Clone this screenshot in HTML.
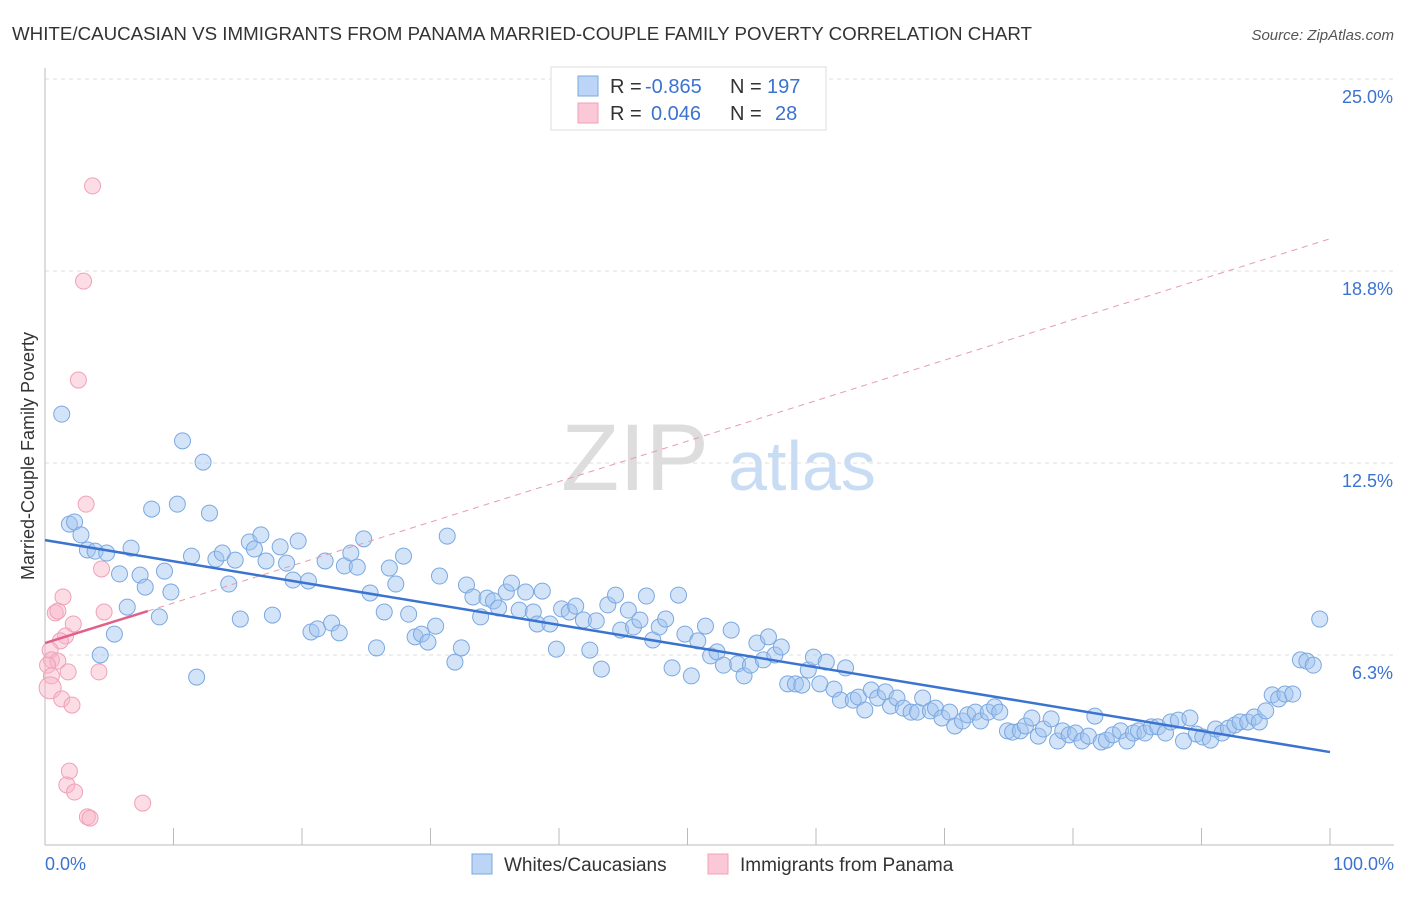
<!DOCTYPE html>
<html><head><meta charset="utf-8"><style>
body{margin:0;background:#fff;font-family:"Liberation Sans",sans-serif;}
svg text{font-family:"Liberation Sans",sans-serif;}
</style></head><body>
<svg id="chart" width="1406" height="892" xmlns="http://www.w3.org/2000/svg">
<text x="12" y="40" font-size="18" fill="#333" textLength="1020" lengthAdjust="spacingAndGlyphs">WHITE/CAUCASIAN VS IMMIGRANTS FROM PANAMA MARRIED-COUPLE FAMILY POVERTY CORRELATION CHART</text>
<text x="1394" y="40" font-size="15" fill="#555" font-style="italic" text-anchor="end">Source: ZipAtlas.com</text>
<text x="0" y="0" transform="translate(34,456) rotate(-90)" font-size="18" fill="#333" text-anchor="middle">Married-Couple Family Poverty</text>
<g>
<text x="635" y="490" font-size="95" fill="#ddd" font-family="Liberation Serif" text-anchor="middle">ZIP</text>
<text x="802" y="490" font-size="70" fill="#c8dcf4" text-anchor="middle">atlas</text>
</g>
<g id="grid"></g><g id="axes"></g><g id="pts"></g><g id="lines"></g>
<g>
<rect x="551" y="67" width="275" height="63" fill="#fff" stroke="#ddd"/>
<rect x="578" y="76" width="20" height="20" fill="#bcd4f5" stroke="#7aa8e0"/>
<rect x="578" y="103" width="20" height="20" fill="#fac8d6" stroke="#f0a0b8"/>
<text y="93" font-size="20" fill="#333"><tspan x="610">R = </tspan><tspan x="645" fill="#3b73d0">-0.865</tspan><tspan x="730">N = </tspan><tspan x="767" fill="#3b73d0">197</tspan></text>
<text y="120" font-size="20" fill="#333"><tspan x="610">R = </tspan><tspan x="651" fill="#3b73d0">0.046</tspan><tspan x="730">N = </tspan><tspan x="775" fill="#3b73d0">28</tspan></text>
</g>
<g>
<rect x="472" y="854" width="20" height="20" fill="#bcd4f5" stroke="#7aa8e0"/>
<text x="504" y="871" font-size="19" fill="#333">Whites/Caucasians</text>
<rect x="708" y="854" width="20" height="20" fill="#fac8d6" stroke="#f0a0b8"/>
<text x="740" y="871" font-size="19" fill="#333">Immigrants from Panama</text>
</g>
</svg>
<script>
const blueX=[1.3,1.9,2.3,2.8,3.3,3.9,4.8,4.3,5.4,5.8,6.4,6.7,7.4,7.8,8.3,8.9,9.3,9.8,10.3,10.7,11.4,11.8,12.3,12.8,13.3,13.8,14.3,14.8,15.2,15.9,16.3,16.8,17.2,17.7,18.3,18.8,19.3,19.7,20.5,20.7,21.2,21.8,22.3,22.9,23.3,23.8,24.3,24.8,25.3,25.8,26.4,26.8,27.3,27.9,28.3,28.8,29.3,29.8,30.4,30.7,31.3,31.9,32.4,32.8,33.3,33.9,34.4,34.9,35.3,35.9,36.3,36.9,37.4,38.0,38.3,38.7,39.3,39.8,40.2,40.8,41.3,41.9,42.4,42.9,43.3,43.8,44.4,44.8,45.4,45.8,46.3,46.8,47.3,47.8,48.3,48.8,49.3,49.8,50.3,50.8,51.4,51.8,52.3,52.8,53.4,53.9,54.4,54.9,55.4,55.9,56.3,56.8,57.3,57.8,58.4,58.9,59.4,59.8,60.3,60.8,61.4,61.9,62.3,62.9,63.3,63.8,64.3,64.8,65.4,65.8,66.3,66.8,67.4,67.9,68.3,68.9,69.3,69.8,70.4,70.8,71.4,71.8,72.4,72.8,73.4,73.9,74.3,74.9,75.3,75.9,76.3,76.8,77.3,77.7,78.3,78.8,79.2,79.7,80.2,80.7,81.2,81.7,82.2,82.6,83.1,83.7,84.2,84.7,85.1,85.6,86.1,86.6,87.2,87.6,88.2,88.6,89.1,89.6,90.1,90.7,91.1,91.6,92.1,92.6,93.0,93.6,94.1,94.5,95.0,95.5,96.0,96.5,97.1,97.7,98.2,98.7,99.2];
const blueY=[14.09,10.51,10.58,10.16,9.67,9.63,9.57,6.25,6.93,8.89,7.81,9.73,8.85,8.46,11.00,7.49,8.98,8.30,11.16,13.22,9.47,5.53,12.53,10.87,9.37,9.57,8.56,9.34,7.42,9.93,9.70,10.16,9.31,7.55,9.77,9.24,8.69,9.96,8.66,7.00,7.10,9.31,7.29,6.97,9.15,9.57,9.11,10.03,8.27,6.48,7.65,9.08,8.56,9.47,7.58,6.84,6.93,6.67,7.19,8.82,10.12,6.02,6.48,8.53,8.14,7.49,8.10,8.01,7.78,8.30,8.59,7.71,8.30,7.65,7.26,8.33,7.26,6.44,7.75,7.65,7.84,7.39,6.41,7.36,5.79,7.88,8.20,7.06,7.71,7.16,7.39,8.17,6.74,7.16,7.42,5.83,8.20,6.93,5.57,6.71,7.19,6.22,6.35,5.92,7.06,5.96,5.57,5.92,6.64,6.09,6.84,6.25,6.51,5.31,5.31,5.27,5.76,6.18,5.31,6.02,5.14,4.78,5.83,4.78,4.88,4.46,5.11,4.85,5.05,4.59,4.85,4.52,4.39,4.39,4.85,4.43,4.52,4.20,4.39,3.94,4.10,4.30,4.39,4.10,4.39,4.56,4.39,3.78,3.74,3.78,3.94,4.20,3.61,3.84,4.17,3.45,3.78,3.65,3.71,3.45,3.61,4.26,3.42,3.48,3.65,3.78,3.45,3.71,3.78,3.71,3.91,3.91,3.71,4.07,4.13,3.45,4.20,3.68,3.58,3.48,3.84,3.71,3.87,3.97,4.07,4.07,4.23,4.07,4.43,4.95,4.82,4.98,4.98,6.09,6.05,5.92,7.42];
const pinkX=[3.7,3.0,2.6,3.2,4.4,4.6,1.4,0.8,1.0,2.2,1.6,1.2,0.4,0.5,1.0,0.2,1.8,4.2,0.5,0.4,1.3,2.1,1.9,1.7,2.3,3.3,3.5,7.6];
const pinkY=[21.52,18.42,15.20,11.16,9.05,7.65,8.14,7.62,7.68,7.26,6.87,6.71,6.41,6.09,6.05,5.92,5.70,5.70,5.57,5.18,4.82,4.62,2.47,2.02,1.79,0.98,0.94,1.43];
const yTicks=[25.0,18.8,12.5,6.3];
const yTickLabels=["25.0%","18.8%","12.5%","6.3%"];
const blueTrend=[9.99,3.09];
const pinkTrend=[6.64,7.68,8];
const pinkDashEnd=19.8;
const NS='http://www.w3.org/2000/svg';
const X0=45,X1=1330,YB=847,PX=192/6.25;
const sx=v=>X0+(X1-X0)*v/100, sy=v=>YB-v*PX;
function mk(t,a,p){const e=document.createElementNS(NS,t);for(const k in a)e.setAttribute(k,a[k]);p.appendChild(e);return e;}
const grid=document.getElementById('grid'),axes=document.getElementById('axes'),pts=document.getElementById('pts'),lines=document.getElementById('lines');
yTicks.forEach((t,i)=>{const gv=[25,18.75,12.5,6.25][i];
const l=mk('line',{x1:X0,x2:1394,y1:sy(gv),y2:sy(gv),stroke:'#ddd','stroke-dasharray':'4,4'},grid);


const tx=mk('text',{x:1393,y:sy(gv)+24,'font-size':18,fill:'#3b73d0','text-anchor':'end'},axes);tx.textContent=yTickLabels[i];

});
const ya=mk('line',{x1:X0,x2:X0,y1:68,y2:845,stroke:'#bbb'},axes);


const xa=mk('line',{x1:X0,x2:1394,y1:845,y2:845,stroke:'#bbb'},axes);


for(let i=0;i<=10;i++){const t=mk('line',{x1:sx(i*10),x2:sx(i*10),y1:828,y2:845,stroke:'#bbb'},axes);

}
const xl0=mk('text',{x:45,y:870,'font-size':18,fill:'#3b73d0'},axes);xl0.textContent='0.0%';


const xl1=mk('text',{x:1394,y:870,'font-size':18,fill:'#3b73d0','text-anchor':'end'},axes);xl1.textContent='100.0%';


blueX.forEach((x,i)=>{const c=mk('circle',{cx:sx(x),cy:sy(blueY[i]),r:8,fill:'rgba(160,196,240,0.45)',stroke:'#7aa8e0','stroke-width':1},pts);

});
pinkX.forEach((x,i)=>{const c=mk('circle',{cx:sx(x),cy:sy(pinkY[i]),r:i==19?11:8,fill:'rgba(248,180,200,0.45)',stroke:'#f0a0b8','stroke-width':1},pts);

});
const pd=mk('line',{x1:sx(pinkTrend[2]),y1:sy(pinkTrend[1]),x2:sx(100),y2:sy(pinkDashEnd),stroke:'#e89ab0','stroke-width':1,'stroke-dasharray':'6,5'},lines);


const bl=mk('line',{x1:sx(0),y1:sy(blueTrend[0]),x2:sx(100),y2:sy(blueTrend[1]),stroke:'#3b73d0','stroke-width':2.5},lines);


const pl=mk('line',{x1:sx(0),y1:sy(pinkTrend[0]),x2:sx(pinkTrend[2]),y2:sy(pinkTrend[1]),stroke:'#e0608a','stroke-width':2.5},lines);


</script>
</body></html>
